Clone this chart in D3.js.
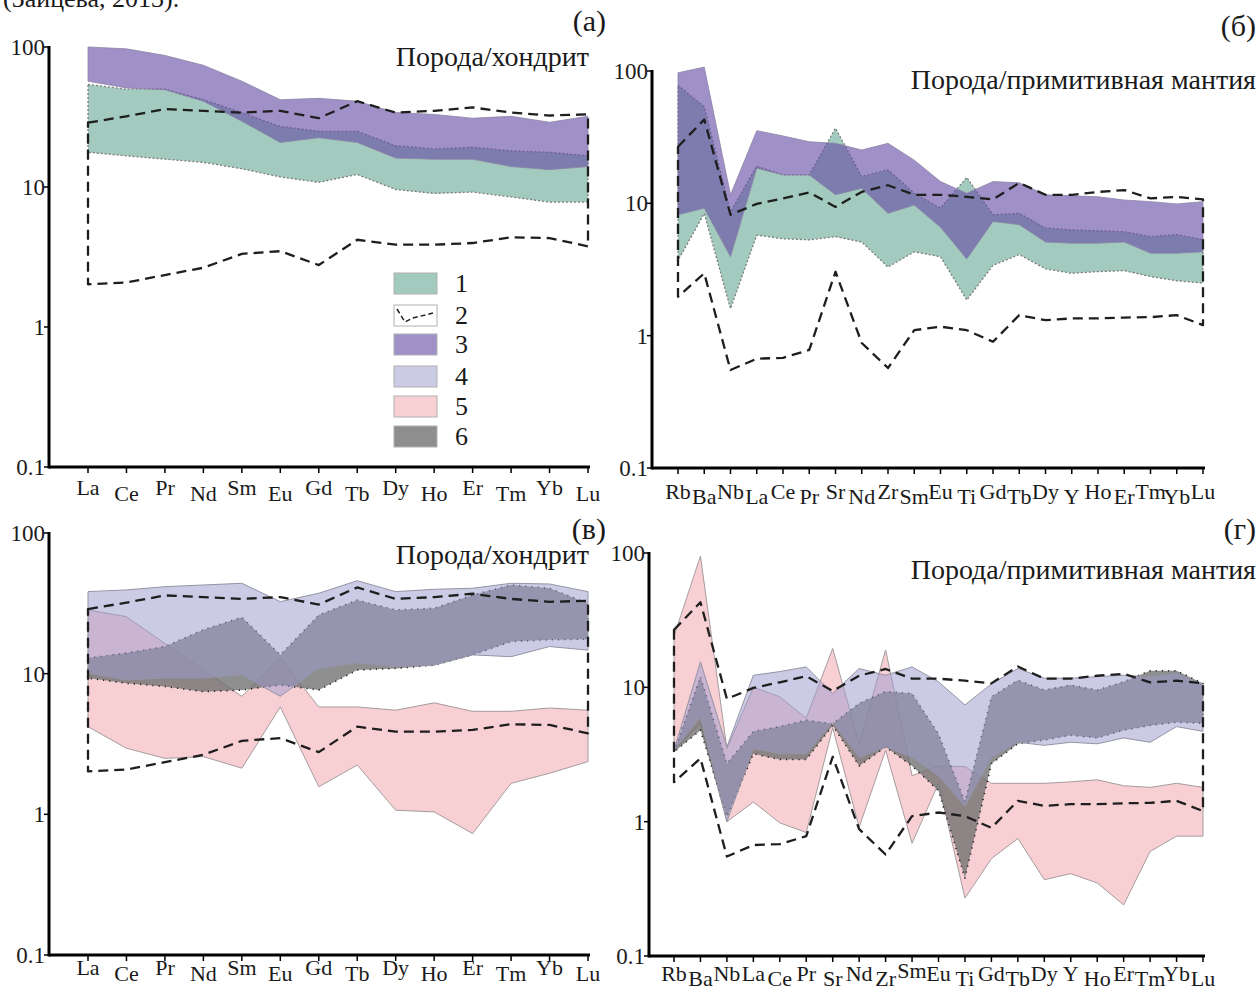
<!DOCTYPE html>
<html>
<head>
<meta charset="utf-8">
<script src="https://cdn.jsdelivr.net/npm/d3@7"></script>
<style>
  html, body { margin: 0; padding: 0; background: #fff; }
  svg { display: block; }
  text { font-family: "Liberation Serif", "Times New Roman", serif; fill: #1a1a1a; }
</style>
</head>
<body>
<svg id="chart" width="1260" height="990"></svg>
<script>
// element orders
const ree = ['La','Ce','Pr','Nd','Sm','Eu','Gd','Tb','Dy','Ho','Er','Tm','Yb','Lu'];
const spider = ['Rb','Ba','Nb','La','Ce','Pr','Sr','Nd','Zr','Sm','Eu','Ti','Gd','Tb','Dy','Y','Ho','Er','Tm','Yb','Lu'];
const yTicks = [0.1, 1, 10, 100];

// field 2 (reference envelope, dashed)
const chondriteUpper = [28.8, 32, 36, 35, 34, 35, 31, 41, 34, 35, 37, 34, 32.4, 33];
const chondriteLower = [2.02, 2.08, 2.35, 2.65, 3.33, 3.48, 2.77, 4.2, 3.87, 3.87, 3.98, 4.37, 4.32, 3.77];
const mantleUpper = [26.8, 43, 8.2, 9.9, 10.9, 12.1, 9.4, 12.2, 13.7, 11.6, 11.6, 11.2, 10.7, 14.3, 11.6, 11.6, 12.2, 12.6, 10.9, 11.2, 10.7];
const mantleLower = [1.97, 2.96, 0.55, 0.67, 0.68, 0.78, 3.04, 0.88, 0.57, 1.1, 1.17, 1.1, 0.9, 1.43, 1.31, 1.35, 1.35, 1.37, 1.38, 1.43, 1.2];

// (а) fields 1 and 3
const aField1Upper = [54, 50, 50, 42, 34, 27, 25, 25, 19.7, 18.7, 19.2, 18.1, 17.7, 16.7];
const aField1Lower = [17.7, 16.7, 15.8, 15, 13.5, 11.8, 10.8, 12.3, 9.6, 9, 9.2, 8.5, 7.8, 7.8];
const aField3Upper = [100, 97, 87, 74, 57, 42, 43, 41, 34, 33, 31, 32, 29, 32];
const aField3Lower = [57, 51, 49.5, 41, 29.5, 20.8, 22.5, 20.8, 16.1, 15.8, 15.8, 14, 13.3, 14];

// (б) fields 1 and 3
const bField1Upper = [78, 53.7, 8.6, 19.1, 16.4, 16.4, 37, 15.9, 17.9, 11.9, 9.2, 15.7, 8.2, 8.4, 6.5, 6.3, 6.2, 6.1, 5.6, 5.8, 5.3];
const bField1Lower = [3.7, 8.4, 1.6, 5.75, 5.4, 5.3, 5.6, 5.1, 3.3, 4.3, 3.95, 1.86, 3.4, 4.1, 3.2, 2.96, 3.05, 3.1, 2.8, 2.6, 2.5];
const bField3Upper = [97, 107, 11.6, 35.4, 32.3, 29.2, 28.4, 25.3, 28.4, 21.2, 14.6, 11.9, 14.6, 14.3, 11.6, 11.4, 11.2, 10.6, 10.3, 9.9, 10.3];
const bField3Lower = [8.2, 9.2, 3.95, 18.4, 16.4, 16.4, 11.6, 13, 8.4, 9.7, 6.6, 3.8, 7.3, 6.9, 5.1, 5.0, 5.0, 5.1, 4.2, 4.2, 4.3];

// (в) fields 4, 5, 6
const cField4Upper = [38.3, 39.4, 41.5, 42.7, 43.9, 32.5, 37.3, 45.8, 38.3, 39.8, 40.5, 43.9, 43.4, 38.3];
const cField4Lower = [10.1, 9.0, 9.3, 9.3, 9.8, 6.9, 10.9, 11.9, 11.2, 11.5, 13.6, 13.2, 15.6, 14.7];
const cField5Upper = [28.4, 25.4, 16.4, 10.6, 6.9, 12.9, 5.8, 5.8, 5.5, 6.2, 5.4, 5.4, 5.7, 5.5];
const cField5Lower = [4.2, 2.95, 2.5, 2.57, 2.13, 5.8, 1.57, 2.24, 1.07, 1.04, 0.73, 1.66, 1.96, 2.37];
const cField6Upper = [12.9, 14.0, 15.6, 20.5, 25.2, 13.6, 26.1, 33.4, 28.4, 29.2, 36.2, 42.7, 40.5, 31.6];
const cField6Lower = [9.3, 8.55, 8.1, 7.45, 7.65, 8.3, 7.65, 10.6, 10.9, 11.5, 13.6, 16.9, 17.4, 17.6];

// (г) fields 4, 5, 6
const dField4Upper = [3.4, 15.5, 3.6, 12.3, 13.1, 14.2, 9.0, 13.8, 12.3, 14.2, 11, 7.4, 10.6, 13.8, 11.7, 11.7, 12.0, 12.3, 12.0, 12.7, 10.6];
const dField4Lower = [3.4, 6.0, 1.0, 3.5, 3.2, 3.2, 5.5, 3.0, 3.6, 3.0, 2.2, 1.3, 3.0, 3.9, 3.7, 3.9, 3.8, 4.2, 3.9, 5.1, 4.7];
const dField5Upper = [24, 95, 3.5, 10, 8.5, 5.9, 19.5, 3.8, 19, 2.2, 2.6, 2.57, 1.93, 1.93, 1.93, 1.98, 2.05, 1.85, 1.8, 1.93, 1.8];
const dField5Lower = [3.4, 5.4, 1.0, 1.4, 0.98, 0.83, 5.0, 0.91, 3.4, 0.69, 1.93, 0.27, 0.53, 0.75, 0.37, 0.41, 0.35, 0.24, 0.6, 0.78, 0.78];
const dField6Upper = [3.3, 12, 2.7, 4.7, 5.1, 5.7, 5.35, 7.6, 9.3, 9.0, 4.5, 1.4, 8.5, 11.3, 9.55, 10.4, 9.55, 11, 13.3, 13.3, 10.7];
const dField6Lower = [3.3, 4.8, 1.09, 3.2, 2.9, 2.9, 5.2, 2.6, 3.6, 2.6, 1.7, 0.38, 2.7, 3.8, 4.05, 4.4, 4.2, 4.8, 5.2, 5.5, 5.4];

const legendKeys = ['1', '2', '3', '4', '5', '6'];

// look of each field
const fieldStyle = {
  '1': {fill: '#a3cabe', opacity: 1, stroke: '#7b7b7b', dash: '2,2', width: 1.3},
  '3': {fill: 'rgb(102,76,166)', opacity: 0.62, stroke: '#8b84a6', dash: null, width: 0.8},
  '4': {fill: 'rgb(158,156,208)', opacity: 0.52, stroke: '#9494a4', dash: null, width: 1},
  '5': {fill: '#f8d0d4', opacity: 1, stroke: '#a59c9d', dash: null, width: 1},
  '6': {fill: 'rgb(110,110,110)', opacity: 0.78, stroke: '#222', dash: '1.2,5', width: 1.6}
};

const svg = d3.select('#chart');

const panels = [
  {elements: ree, axisX: 49, xFirst: 88, xLast: 588, yTop: 47, yBottom: 467,
   labelHigh: 495, labelLow: 501, shift: [0,1,0,1,0,1,0,1,0,1,0,1,0,1],
   fields: [['1', aField1Lower, aField1Upper], ['3', aField3Lower, aField3Upper]],
   ref: [chondriteLower, chondriteUpper],
   tag: '(а)', tagX: 606, tagY: 31, title: 'Порода/хондрит', titleX: 589, titleY: 66},
  {elements: spider, axisX: 652, xFirst: 678, xLast: 1203, yTop: 71, yBottom: 468,
   labelHigh: 499, labelLow: 504, shift: [0,1,0,1,0,1,0,1,0,1,0,1,0,1,0,1,0,1,0,1,0],
   fields: [['1', bField1Lower, bField1Upper], ['3', bField3Lower, bField3Upper]],
   ref: [mantleLower, mantleUpper],
   tag: '(б)', tagX: 1256, tagY: 36, title: 'Порода/примитивная мантия', titleX: 1256, titleY: 89},
  {elements: ree, axisX: 49, xFirst: 88, xLast: 588, yTop: 533, yBottom: 955,
   labelHigh: 975, labelLow: 981, shift: [0,1,0,1,0,1,0,1,0,1,0,1,0,1],
   fields: [['5', cField5Lower, cField5Upper], ['6', cField6Lower, cField6Upper], ['4', cField4Lower, cField4Upper]],
   ref: [chondriteLower, chondriteUpper],
   tag: '(в)', tagX: 606, tagY: 539, title: 'Порода/хондрит', titleX: 589, titleY: 564},
  {elements: spider, axisX: 649, xFirst: 674, xLast: 1203, yTop: 553, yBottom: 956,
   labelHigh: 981, labelLow: 986, shift: [0,1,0,0,1,0,1,0,1,-0.6,0,1,0,1,0,0,1,0,1,0,1],
   fields: [['5', dField5Lower, dField5Upper], ['6', dField6Lower, dField6Upper], ['4', dField4Lower, dField4Upper]],
   ref: [mantleLower, mantleUpper],
   tag: '(г)', tagX: 1256, tagY: 539, title: 'Порода/примитивная мантия', titleX: 1256, titleY: 579}
];

function drawPanel(p) {
  const g = svg.append('g');
  const x = d3.scalePoint().domain(p.elements).range([p.xFirst, p.xLast]);
  const y = d3.scaleLog().domain([0.1, 100]).range([p.yBottom, p.yTop]);

  const band = (lower, upper) => d3.area()
    .x((d, i) => x(p.elements[i]))
    .y0((d, i) => y(lower[i]))
    .y1((d, i) => y(upper[i]))(lower);

  p.fields.forEach(([key, lower, upper]) => {
    const s = fieldStyle[key];
    g.append('path')
      .attr('d', band(lower, upper))
      .attr('fill', s.fill)
      .attr('fill-opacity', s.opacity)
      .attr('stroke', s.stroke)
      .attr('stroke-width', s.width)
      .attr('stroke-dasharray', s.dash)
      .attr('stroke-linejoin', 'round');
  });

  // reference envelope, field 2
  g.append('path')
    .attr('d', band(p.ref[0], p.ref[1]))
    .attr('fill', 'none')
    .attr('stroke', '#1e1e1e')
    .attr('stroke-width', 2.3)
    .attr('stroke-dasharray', '10,6')
    .attr('stroke-linejoin', 'round');

  // axes
  const axisY = y(0.1);
  g.append('line').attr('x1', p.axisX).attr('x2', p.axisX)
    .attr('y1', y(100) - 1).attr('y2', axisY + 1.5)
    .attr('stroke', '#000').attr('stroke-width', 3);
  g.append('line').attr('x1', p.axisX).attr('x2', p.xLast + 2)
    .attr('y1', axisY).attr('y2', axisY)
    .attr('stroke', '#000').attr('stroke-width', 3);

  g.selectAll('.ytick').data(yTicks).enter().append('line')
    .attr('x1', p.axisX - 5).attr('x2', p.axisX)
    .attr('y1', d => y(d)).attr('y2', d => y(d))
    .attr('stroke', '#000').attr('stroke-width', 1.5);
  g.selectAll('.ylab').data(yTicks).enter().append('text')
    .attr('x', p.axisX - 4).attr('y', d => y(d)).attr('dy', '0.35em')
    .attr('text-anchor', 'end').attr('font-size', 23)
    .text(d => d3.format('')(d));

  g.selectAll('.xtick').data(p.elements).enter().append('line')
    .attr('x1', d => x(d)).attr('x2', d => x(d))
    .attr('y1', axisY).attr('y2', axisY + 6)
    .attr('stroke', '#000').attr('stroke-width', 1.5);
  g.selectAll('.xlab').data(p.elements).enter().append('text')
    .attr('x', d => x(d))
    .attr('y', (d, i) => p.labelHigh + p.shift[i] * (p.labelLow - p.labelHigh))
    .attr('text-anchor', 'middle').attr('font-size', 22)
    .text(d => d);

  g.append('text').attr('x', p.tagX).attr('y', p.tagY)
    .attr('text-anchor', 'end').attr('font-size', 30).text(p.tag);
  g.append('text').attr('x', p.titleX).attr('y', p.titleY)
    .attr('text-anchor', 'end').attr('font-size', 28).text(p.title);
}

panels.forEach(drawPanel);

// legend in panel (а)
const legendY = [273, 305, 334, 366, 396, 426];
const legend = svg.append('g');
legendKeys.forEach((k, i) => {
  const s = fieldStyle[k];
  legend.append('rect')
    .attr('x', 394).attr('y', legendY[i]).attr('width', 43).attr('height', 21)
    .attr('fill', s ? s.fill : '#fff')
    .attr('fill-opacity', s ? s.opacity : 1)
    .attr('stroke', '#b0b0b0').attr('stroke-width', 1);
  legend.append('text')
    .attr('x', 455).attr('y', legendY[i] + 19)
    .attr('font-size', 26).text(k);
});
legend.append('path')
  .attr('d', 'M397,309 L405,322 L413,318 L433,313')
  .attr('fill', 'none').attr('stroke', '#222').attr('stroke-width', 1.5)
  .attr('stroke-dasharray', '5,3');

// caption line cut at the top edge, as in the source page
svg.append('text').attr('x', 3).attr('y', 7).attr('font-size', 26)
  .text('(Зайцева, 2013).');
</script>
</body>
</html>
